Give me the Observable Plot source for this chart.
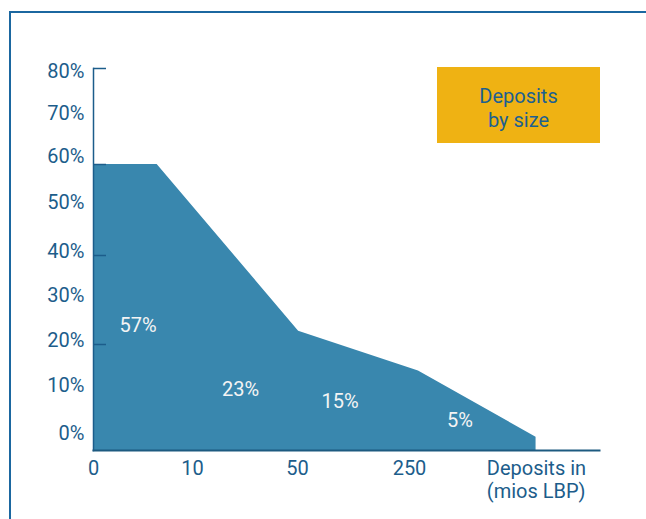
<!DOCTYPE html>
<html>
<head>
<meta charset="utf-8">
<script src="https://cdn.jsdelivr.net/npm/d3@7"></script>
<script src="https://cdn.jsdelivr.net/npm/@observablehq/plot@0.6"></script>
<style>
  html, body { margin: 0; padding: 0; background: #fff; }
  #wrap { position: relative; width: 646px; height: 519px; overflow: hidden; font-family: Roboto, sans-serif; }
  #frame { position: absolute; left: 9px; top: 11px; right: -4px; bottom: -4px; border-top: 2px solid #1b67a0; border-left: 2px solid #1b67a0; }
  #wrap svg { position: absolute; left: 0; top: 0; }
  #legend { position: absolute; left: 437px; top: 67px; width: 163px; height: 76px; background: #efb213; color: #1c6090;
    font-size: 20px; line-height: 24px; text-align: center; display: flex; align-items: center; justify-content: center; padding-top: 6px; box-sizing: border-box; }
</style>
</head>
<body>
<div id="wrap"><div id="frame"></div></div>
<script>
// Deposit size buckets (x position index: 0 → "0", 1 → "10", 2 → "50", 3 → "250")
const xTickValues = [0, 1, 2, 3];
const xTickLabels = ["0", "10", "50", "250"];

// Outline of the distribution area (x in bucket-index units, y as share)
const areaX = [0, 0.643, 2.01, 3.08, 4.13];
const areaY = [0.6, 0.6, 0.23, 0.15, 0.025];

// Share labels inside the area
const shareLabels = ["57%", "23%", "15%", "5%"];
const shareX = [0.45, 1.457, 2.38, 3.45];
const shareY = [0.243, 0.115, 0.093, 0.057];

// Y axis
const yTickMarks = [0.2, 0.4, 0.6, 0.8];
const yLabelValues = [0, 0.1, 0.2, 0.3, 0.4, 0.5, 0.6, 0.7, 0.8];
const yLabelTexts = ["0%", "10%", "20%", "30%", "40%", "50%", "60%", "70%", "80%"];

const xTitle = "Deposits in\n(mios LBP)";
const legendText = ["Deposits", "by size"];

const ink = "#1c5d8b";
const areaData = areaX.map((x, i) => ({x, y: areaY[i]}));
const labelData = shareLabels.map((t, i) => ({x: shareX[i], y: shareY[i], t}));

const main = Plot.plot({
  width: 646, height: 519,
  marginLeft: 93, marginRight: 47, marginTop: 68, marginBottom: 69,
  style: {fontFamily: "Roboto, sans-serif", fontSize: "20px", color: ink, background: "transparent"},
  x: {type: "linear", domain: [0, 1, 2, 3], range: [93, 192, 297, 409]},
  y: {type: "linear", domain: [0, 0.2, 0.4, 0.6, 0.8], range: [450, 344, 255, 164, 68]},
  marks: [
    Plot.areaY(areaData, {x: "x", y: "y", fill: "#3987ae"}),
    Plot.text(labelData, {x: "x", y: "y", text: "t", fill: "#f4f4f4", fontSize: 20}),
    Plot.axisY(yTickMarks, {tickSize: 13, dx: 13, tickFormat: () => "", stroke: ink, strokeWidth: 1.5, label: null}),
    Plot.axisX(xTickValues, {tickSize: 0, tickPadding: 10, tickFormat: (d, i) => xTickLabels[i], fill: ink, fontSize: 20, label: null}),
    Plot.frame({anchor: "left", stroke: ink, strokeWidth: 1.5}),
    Plot.frame({anchor: "bottom", stroke: "#1d5a80", strokeWidth: 2}),
    Plot.text([xTitle], {x: 3.69, frameAnchor: "bottom", dy: 8, lineAnchor: "top", textAnchor: "start", lineHeight: 1.15, fill: ink, fontSize: 20})
  ]
});

const labels = Plot.plot({
  width: 646, height: 519,
  marginLeft: 84, marginRight: 10, marginTop: 71.5, marginBottom: 86,
  style: {fontFamily: "Roboto, sans-serif", fontSize: "20px", color: ink, background: "transparent"},
  y: {type: "linear", domain: yLabelValues, range: [433, 385, 340, 295, 251, 202, 156, 113, 71.5]},
  marks: [
    Plot.axisY(yLabelValues, {tickSize: 0, tickPadding: 0, tickFormat: (d, i) => yLabelTexts[i], fill: ink, fontSize: 20, label: null})
  ]
});

const wrap = document.getElementById("wrap");
wrap.appendChild(main);
wrap.appendChild(labels);
const legend = document.createElement("div");
legend.id = "legend";
legend.innerHTML = legendText.join("<br>");
wrap.appendChild(legend);
</script>
</body>
</html>
